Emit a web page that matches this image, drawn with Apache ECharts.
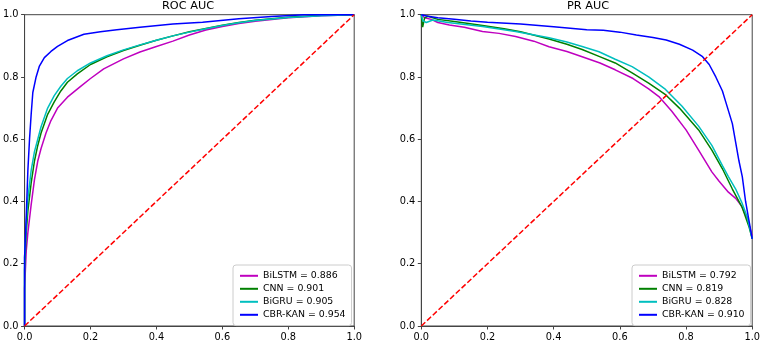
<!DOCTYPE html>
<html>
<head>
<meta charset="utf-8">
<title>ROC / PR AUC</title>
<script src="https://cdn.jsdelivr.net/npm/echarts@6/dist/echarts.min.js"></script>
<style>
  html, body { margin: 0; padding: 0; background: #fff; }
  #chart { width: 763px; height: 342px; }
</style>
</head>
<body>
<div id="chart"></div>
<script>
// tick labels for both axes
const tickValues = [0, 0.2, 0.4, 0.6, 0.8, 1.0]

// legend names
const rocNames = ['BiLSTM = 0.886', 'CNN = 0.901', 'BiGRU = 0.905', 'CBR-KAN = 0.954']
const prNames = ['BiLSTM = 0.792', 'CNN = 0.819', 'BiGRU = 0.828', 'CBR-KAN = 0.910']

// ROC curves [fpr, tpr]
const rocBiLSTM = [[0,0],[0,0.12],[0.005,0.24],[0.01,0.3],[0.02,0.39],[0.03,0.47],[0.04,0.53],[0.05,0.57],[0.065,0.62],[0.08,0.66],[0.1,0.70],[0.13,0.735],[0.17,0.77],[0.2,0.795],[0.24,0.826],[0.3,0.858],[0.35,0.88],[0.4,0.898],[0.45,0.915],[0.5,0.935],[0.55,0.951],[0.6,0.962],[0.65,0.972],[0.7,0.979],[0.8,0.99],[0.9,0.997],[1,1]]
const rocCNN = [[0,0],[0,0.18],[0.005,0.3],[0.01,0.37],[0.02,0.46],[0.03,0.53],[0.04,0.58],[0.05,0.62],[0.07,0.68],[0.09,0.72],[0.11,0.755],[0.13,0.783],[0.16,0.81],[0.2,0.84],[0.25,0.865],[0.3,0.885],[0.35,0.902],[0.4,0.918],[0.45,0.932],[0.5,0.945],[0.55,0.956],[0.6,0.966],[0.65,0.975],[0.7,0.982],[0.8,0.992],[0.9,0.998],[1,1]]
const rocBiGRU = [[0,0],[0,0.22],[0.005,0.33],[0.01,0.41],[0.02,0.5],[0.03,0.56],[0.04,0.6],[0.05,0.64],[0.07,0.70],[0.09,0.74],[0.11,0.77],[0.13,0.795],[0.16,0.82],[0.2,0.845],[0.25,0.868],[0.3,0.887],[0.35,0.903],[0.4,0.918],[0.45,0.932],[0.5,0.944],[0.55,0.955],[0.6,0.965],[0.65,0.974],[0.7,0.981],[0.8,0.991],[0.9,0.997],[1,1]]
const rocCBRKAN = [[0,0],[0,0.22],[0.005,0.35],[0.01,0.5],[0.015,0.6],[0.02,0.68],[0.025,0.75],[0.035,0.8],[0.045,0.835],[0.06,0.862],[0.08,0.882],[0.1,0.898],[0.13,0.917],[0.18,0.937],[0.23,0.945],[0.28,0.952],[0.35,0.96],[0.45,0.97],[0.54,0.976],[0.65,0.987],[0.75,0.994],[0.85,1],[1,1]]

// PR curves [recall, precision]
const prBiLSTM = [[0,1],[0.01,0.99],[0.03,0.985],[0.05,0.975],[0.085,0.967],[0.13,0.96],[0.185,0.946],[0.235,0.94],[0.285,0.93],[0.34,0.915],[0.386,0.897],[0.44,0.882],[0.486,0.865],[0.54,0.845],[0.586,0.823],[0.64,0.795],[0.687,0.762],[0.72,0.735],[0.757,0.69],[0.8,0.63],[0.838,0.565],[0.878,0.495],[0.9,0.465],[0.928,0.43],[0.95,0.41],[0.968,0.385],[0.985,0.345],[1,0.29]]
const prCNN = [[0,1],[0.004,0.96],[0.01,0.99],[0.02,0.995],[0.05,0.985],[0.1,0.978],[0.185,0.965],[0.25,0.955],[0.3,0.945],[0.386,0.922],[0.44,0.905],[0.486,0.888],[0.537,0.866],[0.586,0.845],[0.637,0.813],[0.687,0.78],[0.738,0.743],[0.78,0.70],[0.838,0.63],[0.878,0.565],[0.91,0.505],[0.94,0.44],[0.97,0.38],[0.99,0.32],[1,0.28]]
const prBiGRU = [[0,1],[0.005,0.98],[0.015,0.975],[0.035,0.983],[0.08,0.975],[0.185,0.962],[0.285,0.946],[0.386,0.926],[0.44,0.912],[0.486,0.898],[0.537,0.881],[0.586,0.857],[0.637,0.833],[0.687,0.80],[0.738,0.76],[0.788,0.706],[0.838,0.642],[0.878,0.58],[0.91,0.515],[0.928,0.48],[0.95,0.44],[0.968,0.398],[0.985,0.35],[1,0.28]]
const prCBRKAN = [[0,1],[0.02,0.995],[0.05,0.99],[0.1,0.985],[0.15,0.98],[0.2,0.976],[0.3,0.97],[0.4,0.961],[0.5,0.952],[0.55,0.95],[0.6,0.944],[0.65,0.935],[0.7,0.927],[0.74,0.919],[0.78,0.905],[0.82,0.886],[0.85,0.865],[0.87,0.84],[0.89,0.80],[0.91,0.755],[0.92,0.72],[0.94,0.65],[0.95,0.59],[0.96,0.53],[0.97,0.48],[0.98,0.40],[0.99,0.34],[1,0.28]]

// chance line
const diagonal = [[0,0],[1,1]]

const colors = ['#bf00bf', '#008000', '#00bfbf', '#0000ff']
const font = 'DejaVu Sans'
const frameColor = '#444'

const makeAxis = (gridIndex) => ({
  type: 'value',
  gridIndex,
  min: 0,
  max: 1,
  interval: 0.2,
  axisLine: { show: true, lineStyle: { color: frameColor, width: 1 } },
  axisTick: { show: true, inside: false, length: 3.5, lineStyle: { color: frameColor } },
  axisLabel: {
    margin: 6,
    color: '#000',
    fontFamily: font,
    fontSize: 9.8,
    formatter: (v) => v.toFixed(1)
  },
  splitLine: { show: false }
})

const makeLine = (name, data, color, idx) => ({
  name,
  type: 'line',
  xAxisIndex: idx,
  yAxisIndex: idx,
  data,
  showSymbol: false,
  symbol: 'none',
  smooth: false,
  animation: false,
  lineStyle: { color, width: 1.5 },
  itemStyle: { color }
})

const makeDiag = (idx) => ({
  name: 'chance' + idx,
  type: 'line',
  xAxisIndex: idx,
  yAxisIndex: idx,
  data: diagonal,
  showSymbol: false,
  symbol: 'none',
  animation: false,
  lineStyle: { color: '#ff0000', width: 1.5, type: [5.5, 2.4] }
})

const makeLegend = (names, left) => ({
  data: names,
  orient: 'vertical',
  left,
  top: 265,
  icon: 'rect',
  itemWidth: 18,
  itemHeight: 2,
  itemGap: 1.4,
  padding: [5, 6, 5, 7],
  borderColor: '#ccc',
  borderWidth: 1,
  borderRadius: 3,
  backgroundColor: 'rgba(255,255,255,0.8)',
  selectedMode: false,
  textStyle: { fontFamily: font, fontSize: 9.4, color: '#000', lineHeight: 11.6 }
})

const chart = echarts.init(document.getElementById('chart'))
chart.setOption({
  animation: false,
  title: [
    { text: 'ROC AUC', left: 188, top: 1, textAlign: 'center', padding: 0,
      textStyle: { fontFamily: font, fontSize: 11.3, lineHeight: 11, fontWeight: 'normal', color: '#000' } },
    { text: 'PR AUC', left: 588, top: 1, textAlign: 'center', padding: 0,
      textStyle: { fontFamily: font, fontSize: 11.3, lineHeight: 11, fontWeight: 'normal', color: '#000' } }
  ],
  grid: [
    { left: 21.7, top: 14.7, width: 332.5, height: 312, show: true, borderColor: frameColor, borderWidth: 1, backgroundColor: 'transparent' },
    { left: 421.3, top: 14.7, width: 332.7, height: 312, show: true, borderColor: frameColor, borderWidth: 1, backgroundColor: 'transparent' }
  ],
  xAxis: [makeAxis(0), makeAxis(1)],
  yAxis: [makeAxis(0), makeAxis(1)],
  legend: [makeLegend(rocNames, 233), makeLegend(prNames, 632)],
  series: [
    makeLine(rocNames[0], rocBiLSTM, colors[0], 0),
    makeLine(rocNames[1], rocCNN, colors[1], 0),
    makeLine(rocNames[2], rocBiGRU, colors[2], 0),
    makeLine(rocNames[3], rocCBRKAN, colors[3], 0),
    makeDiag(0),
    makeLine(prNames[0], prBiLSTM, colors[0], 1),
    makeLine(prNames[1], prCNN, colors[1], 1),
    makeLine(prNames[2], prBiGRU, colors[2], 1),
    makeLine(prNames[3], prCBRKAN, colors[3], 1),
    makeDiag(1)
  ]
})

window.addEventListener('resize', () => chart.resize())
</script>
</body>
</html>
